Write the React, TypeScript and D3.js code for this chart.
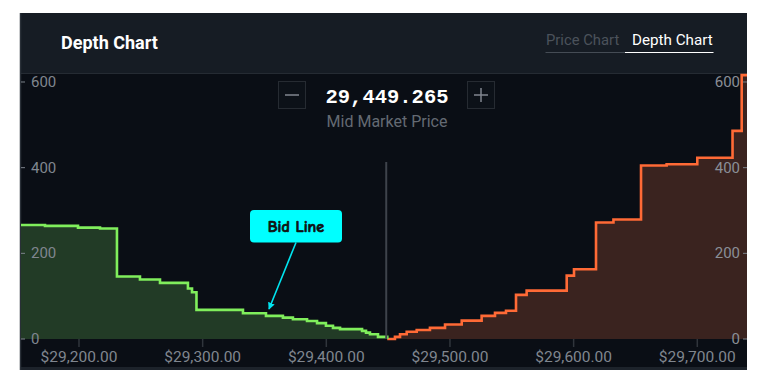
import React from "react";
import * as d3 from "d3";

// ---- data ----
const bidPrices = [29153.1, 29172.5, 29199.2, 29217.0, 29230.7, 29249.3, 29265.5, 29288.1, 29291.4, 29295.0, 29332.6, 29351.2, 29364.9, 29373.0, 29384.4, 29392.5, 29399.7, 29405.4, 29411.1, 29428.9, 29432.1, 29435.3, 29441.8, 29449.265];
const bidDepth = [266, 264, 260, 258, 146, 139, 131, 118, 109, 68, 60, 54, 50, 46, 42, 37, 31, 26, 23, 19, 15, 11, 5, 0];

const askPrices = [29449.265, 29455.5, 29459.6, 29465.0, 29473.1, 29483.8, 29496.0, 29509.5, 29525.6, 29536.4, 29545.3, 29553.4, 29562.0, 29594.4, 29600.3, 29618.1, 29632.2, 29654.5, 29675.2, 29700.0, 29728.5, 29735.9, 29740.2];
const askDepth = [0, 5, 11, 17, 21, 26, 34, 43, 54, 61, 66, 103, 113, 148, 163, 272, 279, 405, 408, 423, 486, 616, 616];

const xTicks = [29200, 29300, 29400, 29500, 29600, 29700];
const yTicks = [0, 200, 400, 600];
const midPrice = 29449.265;
const midLabel = "29,449.265";
const xDomain = [29153.1, 29740.2];
const yDomain = [0, 621];

export default function App() {
  const L = 21, R = 747, T = 73, B = 339;
  const x = d3.scaleLinear().domain(xDomain).range([L, R]);
  const y = d3.scaleLinear().domain(yDomain).range([B, T]);

  const bid = bidPrices.map((p, i) => [p, bidDepth[i]] as [number, number]);
  const ask = askPrices.map((p, i) => [p, askDepth[i]] as [number, number]);

  const line = d3.line<[number, number]>().x(d => x(d[0])).y(d => y(d[1])).curve(d3.curveStepAfter);
  const area = d3.area<[number, number]>().x(d => x(d[0])).y0(y(0)).y1(d => y(d[1])).curve(d3.curveStepAfter);
  const fmt = d3.format(",.2f");
  const font = "Roboto, 'Noto Sans', sans-serif";

  return (
    <svg width={768} height={384} style={{ position: "absolute", left: 0, top: 0, background: "#ffffff" }}>
      <defs>
        <clipPath id="plot"><rect x={L} y={T} width={R - L} height={B - T + 2} /></clipPath>
        <marker id="arr" viewBox="0 0 10 10" refX="9" refY="5" markerWidth="7" markerHeight="7" orient="auto" markerUnits="userSpaceOnUse">
          <path d="M0,0 L10,5 L0,10 z" fill="#00e5f0" />
        </marker>
      </defs>
      {/* panel */}
      <rect x={20} y={13} width={727} height={357} fill="#0a0e15" />
      <rect x={20} y={13} width={727} height={60} fill="#161c24" />
      <line x1={20} x2={747} y1={73.5} y2={73.5} stroke="#252b33" strokeWidth={1} />
      <rect x={20} y={367} width={727} height={3} fill="#1d232b" />
      <line x1={20.5} x2={20.5} y1={13} y2={370} stroke="#2a3038" strokeWidth={1.5} />

      {/* header */}
      <text x={61} y={49} fill="#ffffff" fontFamily={font} fontWeight={700} fontSize={18}>Depth Chart</text>
      <text x={546} y={45} fill="#4b525b" fontFamily={font} fontSize={14.8}>Price Chart</text>
      <text x={632} y={45} fill="#ffffff" fontFamily={font} fontSize={15.2}>Depth Chart</text>
      <line x1={545.5} x2={625} y1={52.5} y2={52.5} stroke="#454c55" strokeWidth={1.2} />
      <line x1={625} x2={713.5} y1={52.5} y2={52.5} stroke="#ffffff" strokeWidth={1.2} />

      {/* depth areas */}
      <g clipPath="url(#plot)">
        <path d={area(bid) || ""} fill="#223b26" />
        <path d={area(ask) || ""} fill="#3a231f" />
        <path d={line(ask) || ""} fill="none" stroke="#ff6a36" strokeWidth={2.6} strokeLinejoin="miter" />
        <path d={line(bid) || ""} fill="none" stroke="#80ee5c" strokeWidth={2.6} strokeLinejoin="miter" />
      </g>

      {/* mid line */}
      <line x1={x(midPrice) - 1} x2={x(midPrice) - 1} y1={162} y2={B} stroke="#3e434b" strokeWidth={2} />

      {/* left y axis */}
      {yTicks.map(t => (
        <g key={"l" + t}>
          <line x1={21} x2={25} y1={y(t)} y2={y(t)} stroke="#7c828b" strokeWidth={1} />
          <text x={31} y={y(t) + 5} fill="#80868f" fontFamily={font} fontSize={15}>{t}</text>
        </g>
      ))}
      {/* right y axis */}
      {yTicks.map(t => (
        <g key={"r" + t}>
          <line x1={743} x2={747} y1={y(t)} y2={y(t)} stroke="#7c828b" strokeWidth={1} />
          <text x={740} y={y(t) + 5} fill="#8a8f97" fontFamily={font} fontSize={15} textAnchor="end">{t}</text>
        </g>
      ))}

      {/* x axis */}
      {xTicks.map(t => (
        <g key={"x" + t}>
          <line x1={x(t)} x2={x(t)} y1={B} y2={347} stroke="#30353c" strokeWidth={1.5} />
          <text x={x(t)} y={362} fill="#80868f" fontFamily={font} fontSize={15.5} textAnchor="middle">${fmt(t)}</text>
        </g>
      ))}

      {/* mid market controls */}
      <rect x={278.5} y={81.5} width={27} height={27} fill="#0c1118" stroke="#262b32" strokeWidth={1} />
      <line x1={285} x2={299} y1={95} y2={95} stroke="#80868f" strokeWidth={1.5} />
      <rect x={467.5} y={81.5} width={27} height={27} fill="#0c1118" stroke="#262b32" strokeWidth={1} />
      <line x1={474} x2={488} y1={95} y2={95} stroke="#80868f" strokeWidth={1.5} />
      <line x1={481} x2={481} y1={88} y2={102} stroke="#80868f" strokeWidth={1.5} />
      <text x={387} y={103} fill="#ffffff" fontFamily="'Liberation Mono', 'DejaVu Sans Mono', monospace" fontWeight={700} fontSize={20.5} textAnchor="middle">{midLabel}</text>
      <text x={387} y={127} fill="#646a73" fontFamily={font} fontSize={16} textAnchor="middle">Mid Market Price</text>

      {/* callout */}
      <line x1={296} y1={242.5} x2={269} y2={309} stroke="#00e5f0" strokeWidth={1.6} markerEnd="url(#arr)" />
      <rect x={250} y={210} width={92} height={32.5} rx={4} fill="#00ffff" />
      <text x={296} y={232} fill="#111111" stroke="#111111" strokeWidth={0.7} fontFamily="'Comic Sans MS', 'Comic Neue', 'DejaVu Sans', sans-serif" fontWeight={700} fontSize={16} textAnchor="middle">Bid Line</text>
    </svg>
  );
}
